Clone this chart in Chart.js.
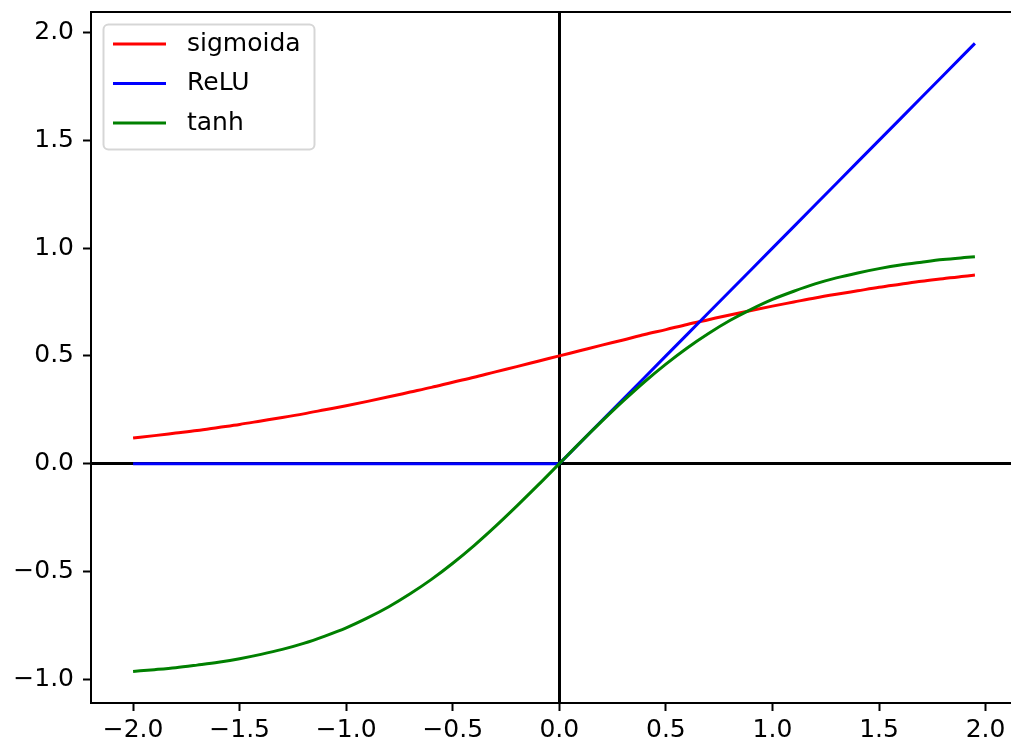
<!DOCTYPE html>
<html>
<head>
<meta charset="utf-8">
<script src="https://cdn.jsdelivr.net/npm/chart.js@4.4.0/dist/chart.umd.min.js"></script>
<style>
  html, body { margin: 0; padding: 0; background: #fff; overflow: hidden; }
  #wrap { width: 1011px; height: 744px; overflow: hidden; position: relative; }
  #grafica { display: block; position: absolute; left: 0; top: 0; }
</style>
</head>
<body>
<div id="wrap"><canvas id="grafica" width="1040" height="744"></canvas></div>
<script>
// valores
const xs = [-2, -1.9, -1.8, -1.7, -1.6, -1.5, -1.4, -1.3, -1.2, -1.1, -1, -0.9, -0.8, -0.7, -0.6, -0.5, -0.4, -0.3, -0.2, -0.1,
            0, 0.1, 0.2, 0.3, 0.4, 0.5, 0.6, 0.7, 0.8, 0.9, 1, 1.1, 1.2, 1.3, 1.4, 1.5, 1.6, 1.7, 1.8, 1.9, 1.95];
const sigmoida = [0.119, 0.130, 0.142, 0.154, 0.168, 0.182, 0.198, 0.214, 0.231, 0.250, 0.269, 0.289, 0.310, 0.332, 0.354, 0.378, 0.401, 0.426, 0.450, 0.475,
                  0.500, 0.525, 0.550, 0.574, 0.599, 0.622, 0.646, 0.668, 0.690, 0.711, 0.731, 0.750, 0.769, 0.786, 0.802, 0.818, 0.832, 0.846, 0.858, 0.870, 0.875];
const relu = [0, 0, 0, 0, 0, 0, 0, 0, 0, 0, 0, 0, 0, 0, 0, 0, 0, 0, 0, 0,
              0, 0.1, 0.2, 0.3, 0.4, 0.5, 0.6, 0.7, 0.8, 0.9, 1, 1.1, 1.2, 1.3, 1.4, 1.5, 1.6, 1.7, 1.8, 1.9, 1.95];
const tanh = [-0.964, -0.956, -0.947, -0.935, -0.922, -0.905, -0.885, -0.862, -0.834, -0.800, -0.762, -0.716, -0.664, -0.604, -0.537, -0.462, -0.380, -0.291, -0.197, -0.100,
              0, 0.100, 0.197, 0.291, 0.380, 0.462, 0.537, 0.604, 0.664, 0.716, 0.762, 0.800, 0.834, 0.862, 0.885, 0.905, 0.922, 0.935, 0.947, 0.956, 0.960];
const xTicks = [-2, -1.5, -1, -0.5, 0, 0.5, 1, 1.5, 2];
const yTicks = [-1, -0.5, 0, 0.5, 1, 1.5, 2];

const pts = ys => xs.map((x, i) => ({ x: x, y: ys[i] }));
const fmt = v => (v < 0 ? '\u2212' : '') + Math.abs(v).toFixed(1);

Chart.defaults.font.family = 'DejaVu Sans';
Chart.defaults.font.size = 25;
Chart.defaults.color = '#000';

// marco de los ejes y leyenda dentro del area
const marco = {
  id: 'marco',
  afterDraw(chart) {
    const c = chart.ctx, a = chart.chartArea;
    c.save();
    c.strokeStyle = '#000';
    c.lineWidth = 2;
    c.strokeRect(a.left, a.top, a.right - a.left, a.bottom - a.top);

    // leyenda
    c.fillStyle = 'rgba(255,255,255,0.8)';
    c.strokeStyle = 'rgba(204,204,204,0.8)';
    c.lineWidth = 2;
    c.beginPath();
    c.roundRect(103.5, 24.5, 211, 125, 5);
    c.fill();
    c.stroke();
    c.font = '25px "DejaVu Sans"';
    c.textBaseline = 'middle';
    chart.data.datasets.forEach((ds, i) => {
      const y = 44 + i * 39.5;
      c.strokeStyle = ds.borderColor;
      c.lineWidth = 3;
      c.beginPath();
      c.moveTo(113, y);
      c.lineTo(166, y);
      c.stroke();
      c.fillStyle = '#000';
      c.fillText(ds.label, 187, y);
    });
    c.restore();
  }
};

const ejeCero = ctx => (ctx.tick && ctx.tick.value === 0) ? '#000' : 'rgba(0,0,0,0)';

new Chart(document.getElementById('grafica'), {
  type: 'line',
  data: {
    datasets: [
      { label: 'sigmoida', data: pts(sigmoida), borderColor: '#ff0000', cubicInterpolationMode: 'monotone', order: 2 },
      { label: 'ReLU', data: pts(relu), borderColor: '#0000ff', tension: 0, order: 1 },
      { label: 'tanh', data: pts(tanh), borderColor: '#008000', cubicInterpolationMode: 'monotone', order: 0 }
    ]
  },
  options: {
    responsive: false,
    animation: false,
    devicePixelRatio: 1,
    layout: { padding: { left: 0, top: 12, right: 23, bottom: 0 } },
    elements: { point: { radius: 0 }, line: { borderWidth: 3, fill: false } },
    plugins: { legend: { display: false }, tooltip: { enabled: false } },
    scales: {
      x: {
        type: 'linear',
        min: -2.1975,
        max: 2.1475,
        afterBuildTicks: s => { s.ticks = xTicks.map(v => ({ value: v })); },
        afterFit: s => { s.height = 41; s.paddingLeft = 0; s.paddingRight = 0; },
        ticks: { callback: fmt, padding: 4, maxRotation: 0, autoSkip: false },
        grid: { color: ejeCero, lineWidth: 3, tickColor: '#000', tickWidth: 2, tickLength: 8 },
        border: { display: false }
      },
      y: {
        type: 'linear',
        min: -1.1107,
        max: 2.0957,
        afterBuildTicks: s => { s.ticks = yTicks.map(v => ({ value: v })); },
        afterFit: s => { s.width = 91; s.paddingTop = 0; s.paddingBottom = 0; },
        ticks: { callback: fmt, padding: 9, autoSkip: false },
        grid: { color: ejeCero, lineWidth: 3, tickColor: '#000', tickWidth: 2, tickLength: 8 },
        border: { display: false }
      }
    }
  },
  plugins: [marco]
});
</script>
</body>
</html>
